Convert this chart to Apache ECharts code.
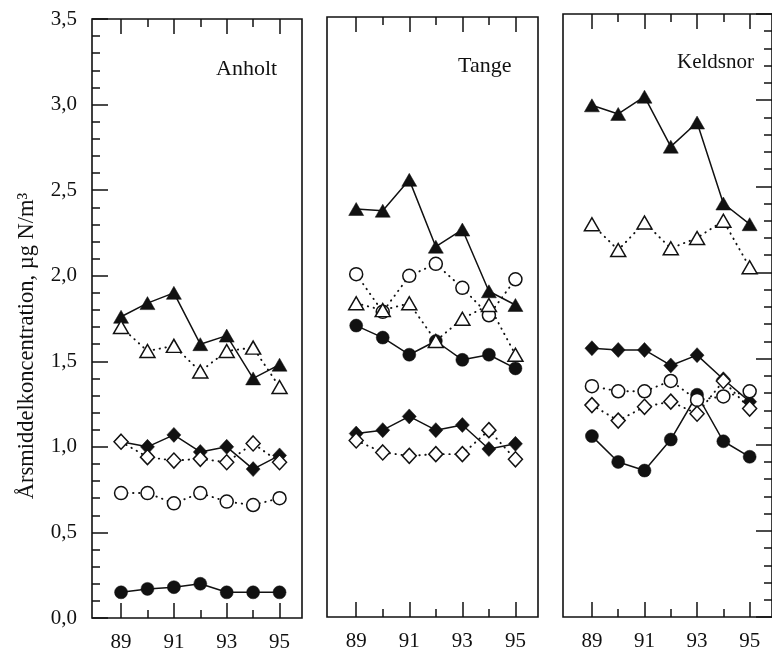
<!DOCTYPE html>
<html>
<head>
<meta charset="utf-8">
<title>Årsmiddelkoncentration</title>
<script src="https://cdn.jsdelivr.net/npm/echarts@6/dist/echarts.min.js"></script>
<style>
  html, body { margin: 0; padding: 0; background: #fff; }
  #chart { width: 772px; height: 654px; }
</style>
</head>
<body>
<div id="chart"></div>
<script>
// Years on the x axis (19xx) and tick positions
const years = [89, 90, 91, 92, 93, 94, 95];
const majorYears = [89, 91, 93, 95];
const minorYears = [90, 92, 94];
const stations = ['Anholt', 'Tange', 'Keldsnor'];
const yAxisTitle = 'Årsmiddelkoncentration, µg N/m³';

// Annual mean concentrations, µg N/m³ (one array per marker style and station)
const anholtTriFilled  = [1.76, 1.84, 1.90, 1.60, 1.65, 1.40, 1.48];
const anholtTriOpen    = [1.70, 1.56, 1.59, 1.44, 1.56, 1.58, 1.35];
const anholtDiaFilled  = [1.03, 1.00, 1.07, 0.97, 1.00, 0.87, 0.95];
const anholtDiaOpen    = [1.03, 0.94, 0.92, 0.93, 0.91, 1.02, 0.91];
const anholtCircOpen   = [0.73, 0.73, 0.67, 0.73, 0.68, 0.66, 0.70];
const anholtCircFilled = [0.15, 0.17, 0.18, 0.20, 0.15, 0.15, 0.15];

const tangeTriFilled  = [2.38, 2.37, 2.55, 2.16, 2.26, 1.90, 1.82];
const tangeTriOpen    = [1.83, 1.79, 1.83, 1.61, 1.74, 1.82, 1.53];
const tangeDiaFilled  = [1.07, 1.09, 1.17, 1.09, 1.12, 0.98, 1.01];
const tangeDiaOpen    = [1.03, 0.96, 0.94, 0.95, 0.95, 1.09, 0.92];
const tangeCircOpen   = [2.00, 1.78, 1.99, 2.06, 1.92, 1.76, 1.97];
const tangeCircFilled = [1.70, 1.63, 1.53, 1.61, 1.50, 1.53, 1.45];

const keldTriFilled  = [2.97, 2.92, 3.02, 2.73, 2.87, 2.40, 2.28];
const keldTriOpen    = [2.28, 2.13, 2.29, 2.14, 2.20, 2.30, 2.03];
const keldDiaFilled  = [1.56, 1.55, 1.55, 1.46, 1.52, 1.38, 1.25];
const keldDiaOpen    = [1.23, 1.14, 1.22, 1.25, 1.18, 1.37, 1.21];
const keldCircOpen   = [1.34, 1.31, 1.31, 1.37, 1.26, 1.28, 1.31];
const keldCircFilled = [1.05, 0.90, 0.85, 1.03, 1.29, 1.02, 0.93];

const INK = '#111';
const FONT = 'Liberation Serif';

const panelData = [
  { circF: anholtCircFilled, diaF: anholtDiaFilled, triF: anholtTriFilled,
    circO: anholtCircOpen, diaO: anholtDiaOpen, triO: anholtTriOpen },
  { circF: tangeCircFilled, diaF: tangeDiaFilled, triF: tangeTriFilled,
    circO: tangeCircOpen, diaO: tangeDiaOpen, triO: tangeTriOpen },
  { circF: keldCircFilled, diaF: keldDiaFilled, triF: keldTriFilled,
    circO: keldCircOpen, diaO: keldDiaOpen, triO: keldTriOpen }
];

// Panel frames
const grids = [
  { left: 92,  top: 19, width: 210, height: 599 },
  { left: 327, top: 17, width: 211, height: 600 },
  { left: 563, top: 14, width: 212, height: 603 }
].map(g => Object.assign(g, { show: true, borderColor: INK, borderWidth: 1.6, backgroundColor: 'transparent' }));

const X_MIN = 87.9, X_MAX = 95.85;

function xAxisFor(gridIndex, position, values, len, labels) {
  return {
    type: 'value', gridIndex, position, min: X_MIN, max: X_MAX,
    axisLine: { show: false },
    splitLine: { show: false },
    axisTick: { show: true, inside: true, length: len, customValues: values,
                lineStyle: { color: INK, width: 1.5 } },
    axisLabel: labels ? {
      show: true, customValues: values, margin: 14,
      color: INK, fontFamily: FONT, fontSize: 21
    } : { show: false }
  };
}

const xAxes = [];
for (let p = 0; p < 3; p++) {
  xAxes.push(xAxisFor(p, 'bottom', majorYears, 15, true));
  xAxes.push(xAxisFor(p, 'bottom', minorYears, 8, false));
  xAxes.push(xAxisFor(p, 'top', majorYears, 15, false));
  xAxes.push(xAxisFor(p, 'top', minorYears, 8, false));
}

function yAxisFor(gridIndex, position, ticks, labels) {
  return {
    type: 'value', gridIndex, position, min: 0, max: 3.5, interval: 0.5,
    axisLine: { show: false },
    splitLine: { show: false },
    axisTick: { show: ticks, inside: true, length: 16, lineStyle: { color: INK, width: 1.5 } },
    minorTick: { show: ticks, splitNumber: 5, length: 8, lineStyle: { color: INK, width: 1.5 } },
    axisLabel: labels ? {
      show: true, margin: 15, color: INK, fontFamily: FONT, fontSize: 21,
      formatter: v => v.toFixed(1).replace('.', ',')
    } : { show: false }
  };
}

const yAxes = [
  yAxisFor(0, 'left', true, true),
  yAxisFor(1, 'left', false, false),
  yAxisFor(2, 'right', true, false)
];

function pairs(vals) { return years.map((y, i) => [y, vals[i]]); }

const solid = { color: INK, width: 1.5, type: 'solid' };
const dotted = { color: INK, width: 1.9, type: [0.4, 5.6], cap: 'round' };

function line(p, vals, symbol, size, filled) {
  return {
    type: 'line', xAxisIndex: p * 4, yAxisIndex: p,
    data: pairs(vals), symbol, symbolSize: size,
    showAllSymbol: true, animation: false, silent: true,
    lineStyle: filled ? solid : dotted,
    itemStyle: filled
      ? { color: INK, borderColor: INK, borderWidth: 0.5 }
      : { color: '#fff', borderColor: INK, borderWidth: 1.5 }
  };
}

const series = [];
panelData.forEach((d, p) => {
  series.push(line(p, d.circF, 'circle', 13, true));
  series.push(line(p, d.diaF, 'diamond', [14, 15], true));
  series.push(line(p, d.triF, 'triangle', [15, 13], true));
  series.push(line(p, d.circO, 'circle', 13, false));
  series.push(line(p, d.diaO, 'diamond', [14, 15], false));
  series.push(line(p, d.triO, 'triangle', [15, 13], false));
});

const titleStyle = { color: INK, fontFamily: FONT, fontSize: 22, fontWeight: 'normal' };
const titles = [
  { text: stations[0], left: 211, top: 53, padding: 5, textStyle: titleStyle },
  { text: stations[1], left: 453, top: 50, padding: 5, textStyle: titleStyle },
  { text: stations[2], left: 672, top: 47, padding: 5,
    textStyle: Object.assign({}, titleStyle, { fontSize: 21 }) }
];

const chart = echarts.init(document.getElementById('chart'), null, { renderer: 'canvas' });
chart.setOption({
  backgroundColor: '#fff',
  animation: false,
  title: titles,
  grid: grids,
  xAxis: xAxes,
  yAxis: yAxes,
  series,
  graphic: [{
    type: 'text', x: 27, y: 346, rotation: Math.PI / 2,
    style: {
      text: yAxisTitle, fill: INK, font: '22.5px "' + FONT + '"',
      textAlign: 'center', textVerticalAlign: 'middle'
    }
  }]
});
</script>
</body>
</html>
